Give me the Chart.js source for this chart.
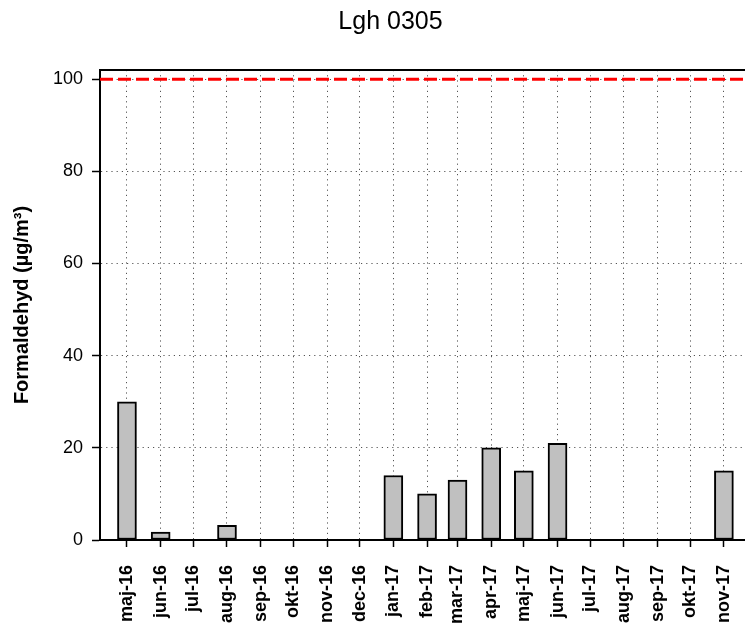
<!DOCTYPE html>
<html>
<head>
<meta charset="utf-8">
<title>Lgh 0305</title>
<script src="https://cdn.jsdelivr.net/npm/chart.js@4/dist/chart.umd.min.js"></script>
<style>
    body { margin: 0; background: #fff; overflow: hidden; }
    #wrap { width: 790px; height: 640px; }
</style>
</head>
<body>
<div id="wrap"><canvas id="formaldehyd" width="790" height="640"></canvas></div>
<script>
// Monthly formaldehyde readings, one per month (null = no sample)
const months = ["2016-05", "2016-06", "2016-07", "2016-08", "2016-09", "2016-10", "2016-11", "2016-12",
    "2017-01", "2017-02", "2017-03", "2017-04", "2017-05", "2017-06", "2017-07", "2017-08",
    "2017-09", "2017-10", "2017-11"];
const monthLabels = ["maj-16", "jun-16", "jul-16", "aug-16", "sep-16", "okt-16", "nov-16", "dec-16",
    "jan-17", "feb-17", "mar-17", "apr-17", "maj-17", "jun-17", "jul-17", "aug-17",
    "sep-17", "okt-17", "nov-17"];
const values = [30, 1.7, null, 3.2, null, null, null, null,
    14, 10, 13, 20, 15, 21, null, null, null, null, 15];
const limitValue = 100;
const yTicks = [0, 20, 40, 60, 80, 100];

// dates -> day numbers so the x axis spaces months by their real length
const toDay = (ym) => {
    const [y, m] = ym.split("-").map(Number);
    return Date.UTC(y, m - 1, 1) / 864e5;
};
const monthDays = months.map(toDay);
const xMin = monthDays[0] - 24.8;
const xMax = monthDays[monthDays.length - 1] + 47;

const bars = [];
values.forEach((v, i) => {
    if (v !== null) bars.push({ x: monthDays[i], y: v });
});

// top edge of the plot frame
const frameTop = {
    id: "frameTop",
    afterDraw: (chart) => {
        const { ctx, chartArea } = chart;
        ctx.save();
        ctx.strokeStyle = "#000";
        ctx.lineWidth = 2;
        ctx.beginPath();
        ctx.moveTo(chartArea.left - 1, chartArea.top);
        ctx.lineTo(chartArea.right, chartArea.top);
        ctx.stroke();
        ctx.restore();
    },
};

const fontFamily = "Arial, 'Liberation Sans', sans-serif";

new Chart(document.getElementById("formaldehyd"), {
    type: "bar",
    data: {
        datasets: [
            {
                type: "line",
                label: "Riktvärde",
                data: [{ x: xMin, y: limitValue }, { x: xMax, y: limitValue }],
                borderColor: "#ff0000",
                borderWidth: 3,
                borderDash: [13, 5],
                pointRadius: 0,
                order: 0,
            },
            {
                label: "Formaldehyd",
                data: bars,
                backgroundColor: "#c0c0c0",
                borderColor: "#000",
                borderWidth: 2,
                borderSkipped: false,
                barThickness: 19,
                order: 1,
            },
        ],
    },
    options: {
        responsive: false,
        animation: false,
        layout: { padding: { left: 6, right: 15, top: 0, bottom: 0 } },
        plugins: {
            legend: { display: false },
            tooltip: { enabled: false },
            title: {
                display: true,
                text: "Lgh 0305",
                color: "#000",
                font: { family: fontFamily, size: 25, weight: "normal" },
                padding: { top: 7, bottom: 33 },
            },
        },
        scales: {
            x: {
                type: "linear",
                min: xMin,
                max: xMax,
                offset: false,
                afterBuildTicks: (scale) => {
                    scale.ticks = monthDays.map((d) => ({ value: d }));
                },
                afterFit: (scale) => {
                    scale.height = 100;
                },
                ticks: {
                    autoSkip: false,
                    minRotation: 90,
                    maxRotation: 90,
                    padding: 18,
                    color: "#000",
                    font: { family: fontFamily, size: 18, weight: "bold" },
                    callback: (value, index) => monthLabels[index],
                },
                grid: {
                    offset: false,
                    color: "#555",
                    lineWidth: 1,
                    tickLength: 7,
                    tickColor: "#000",
                    tickWidth: 1.5,
                    tickBorderDash: [],
                },
                border: { display: true, color: "#000", width: 2, dash: [1.2, 4] },
            },
            y: {
                min: 0,
                max: 102,
                afterBuildTicks: (scale) => {
                    scale.ticks = yTicks.map((v) => ({ value: v }));
                },
                afterFit: (scale) => {
                    scale.width = 94;
                },
                ticks: {
                    padding: 9,
                    color: "#000",
                    font: { family: fontFamily, size: 18 },
                },
                grid: {
                    color: "#555",
                    lineWidth: 1,
                    tickLength: 8,
                    tickColor: "#000",
                    tickWidth: 1.5,
                    tickBorderDash: [],
                },
                border: { display: true, color: "#000", width: 2, dash: [1.2, 4] },
                title: {
                    display: true,
                    text: "Formaldehyd (µg/m³)",
                    color: "#000",
                    font: { family: fontFamily, size: 20, weight: "bold" },
                    padding: { top: 4, bottom: 0 },
                },
            },
        },
    },
    plugins: [frameTop],
});
</script>
</body>
</html>
